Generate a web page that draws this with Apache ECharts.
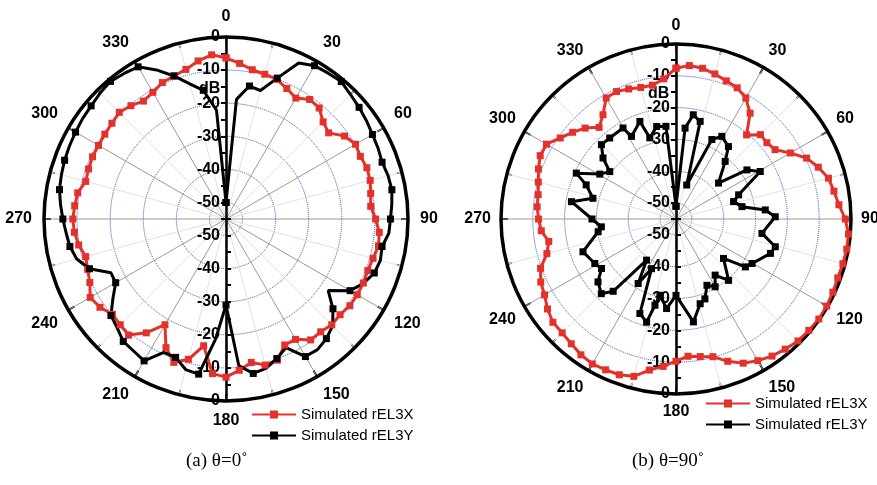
<!DOCTYPE html>
<html>
<head>
<meta charset="utf-8">
<script src="https://cdn.jsdelivr.net/npm/echarts@6/dist/echarts.min.js"></script>
<style>
  html, body { margin: 0; padding: 0; background: #fff; }
  #chart { width: 877px; height: 485px; }
</style>
</head>
<body>
<div id="chart"></div>
<script>
// angles (deg) shared by the 5-degree sampled curves
const angles5 = [0, 5, 10, 15, 20, 25, 30, 35, 40, 45, 50, 55, 60, 65, 70, 75, 80, 85, 90, 95,
  100, 105, 110, 115, 120, 125, 130, 135, 140, 145, 150, 155, 160, 165, 170, 175, 180, 185, 190, 195,
  200, 205, 210, 215, 220, 225, 230, 235, 240, 245, 250, 255, 260, 265, 270, 275, 280, 285, 290, 295,
  300, 305, 310, 315, 320, 325, 330, 335, 340, 345, 350, 355, 360]

// (a) theta = 0
const leftX = [-6.3, -7.8, -9.2, -9.7, -10.1, -11.5, -12.8, -10.9, -11.2, -13.5,
  -14.5, -11.3, -9.8, -10.2, -9.7, -9.9, -10.6, -11.1, -9.8, -8.5,
  -8.2, -9.0, -9.4, -9.2, -9.2, -9.3, -10.0, -9.8, -10.5, -10.4,
  -13.0, -13.0, -9.6, -9.3, -11.0, -9.1, -7.2, -8.1, -16.1, -11.1,
  -8.9, -12.1, -18.1, -13.0, -9.2, -9.8, -10.2, -8.5, -7.6, -9.6,
  -10.5, -11.1, -9.8, -9.0, -8.7, -9.1, -9.5, -11.1, -10.8, -10.5,
  -10.5, -10.3, -10.0, -9.4, -10.3, -11.5, -10.8, -9.5, -9.0, -8.2,
  -6.5, -5.2, -6.3]
const leftY = [-50, -18.7, -14.2, -14.8, -9.7, -3.0, -1.5, -1.2, -0.8, -1.8,
  -2.5, -3.2, -3.9, -4.3, -4.8, -4.3, -4.1, -4.7, -5.3, -5.6,
  -7.1, -6.7, -7.3, -9.1, -11.7, -17.3, -12.8, -9.4, -7.8, -6.8,
  -7.0, -12.1, -10.1, -8.3, -7.6, -10.5, -29.0, -18.5, -7.4, -7.9,
  -10.5, -10.5, -5.5, -6.3, -6.7, -8.5, -9.6, -13.3, -16.5, -16.6,
  -11.1, -8.3, -7.1, -6.5, -5.7, -4.8, -3.9, -3.5, -3.1, -2.8,
  -2.5, -2.1, -1.8, -1.2, -0.7, -1.3, -1.9, -5.3, -9.0, -12.7,
  -15.5, -22.0, -50]

// (b) theta = 90
const rightX = [-7.6, -6.6, -6.9, -7.8, -8.8, -9.5, -11.1, -14.4, -20.5, -17.5,
  -17.7, -17.0, -13.5, -9.7, -7.4, -5.4, -4.6, -3.6, -1.8, -0.6,
  -0.5, -0.7, -0.9, -0.6, -0.3, -0.2, -0.5, -0.8, -1.6, -2.4,
  -3.6, -5.0, -7.4, -10.2, -11.1, -11.7, -10.3, -8.5, -6.8, -3.8,
  -2.9, -2.7, -2.4, -2.9, -3.8, -4.4, -4.5, -5.7, -7.3, -8.1,
  -9.7, -13.0, -14.4, -12.5, -11.8, -11.2, -11.0, -10.2, -9.0, -7.9,
  -8.0, -10.6, -12.6, -14.6, -17.4, -15.0, -11.1, -10.8, -11.5, -12.2,
  -12.3, -10.8, -7.6]
const rightYAngles = [0, 5.7, 9.4, 13.9, 17.5, 24.3, 29, 35.9, 40.5, 49.8, 55.3, 60.6, 68.9, 73.2, 79.4,
  84.2, 88.7, 99.5, 105.6, 110, 120.3, 124.6, 129.7, 139.4, 145.1, 150, 155, 160.1, 164.1, 170.4,
  180, 186, 191.9, 193.7, 195.9, 200.9, 206.2, 210.4, 215.6, 221, 225, 231.1, 236.4, 241.3, 250.6,
  260.7, 264, 270, 279.4, 284, 290.8, 294.7, 300.5, 305.6, 309.9, 314.9, 320.7, 329.8, 331.7, 339.7,
  342.1, 348.2, 353.8, 360]
const rightY = [-51, -26.3, -21.8, -23.4, -43.8, -27.6, -25.3, -26.9, -31.2, -37.5, -27.9, -24.6, -33.9, -36.1, -33.9,
  -26.8, -23.8, -27.6, -22.6, -23.4, -27.3, -28.5, -35.6, -29.6, -33.5, -30.4, -32, -28.3, -27.3, -22.2,
  -31, -26.7, -30.5, -27.1, -21.3, -23.2, -37.6, -31.5, -39.1, -24.9, -21.8, -23.5, -26.9, -25.9, -24,
  -30.2, -31.4, -28.6, -21.7, -28.1, -24.8, -20.5, -27.2, -29.4, -25.1, -21.9, -22.1, -21.9, -25.5, -22.3,
  -28.2, -25.3, -25.7, -51]

const angleTicks = ['0', '30', '60', '90', '120', '150', '180', '210', '240', '270', '300', '330']
const nameX = 'Simulated rEL3X'
const nameY = 'Simulated rEL3Y'
const RED = '#e2322b'
const FONT = 'Liberation Sans, Arial, sans-serif'

// [radius, angle] items; markers only on every `every`-th vertex
function pairs(vals, angs, every) {
  return vals.map((v, i) => (i % every === 0 ? [v, angs[i]] : { value: [v, angs[i]], symbol: 'none' }))
}

// angle axis (outer ring) for the plot polar
function ringAxis(idx, margin) {
  return {
    polarIndex: idx,
    type: 'value', min: 0, max: 360, interval: 30,
    startAngle: 90, clockwise: true,
    axisLine: { lineStyle: { color: '#000', width: 3.5 } },
    axisTick: { inside: true, length: 7, lineStyle: { color: '#000', width: 2 } },
    minorTick: { show: true, splitNumber: 2, length: 5, lineStyle: { color: '#000', width: 1.5 } },
    axisLabel: {
      margin: margin, color: '#000', fontSize: 16, fontWeight: 'bold', fontFamily: FONT,
      formatter: v => angleTicks[Math.round(v / 30)] || ''
    },
    splitLine: { lineStyle: { color: '#9a9a9a', width: 1 } },
    minorSplitLine: { show: true, lineStyle: { color: '#e2e2e2', width: 1 } }
  }
}
// hidden angle axis, only used to point the mirrored radial scale downwards
function downAxis(idx) {
  return {
    polarIndex: idx, type: 'value', min: 0, max: 360, startAngle: 270,
    axisLine: { show: false }, axisTick: { show: false }, axisLabel: { show: false },
    splitLine: { show: false }
  }
}
function dbAxis(idx, up) {
  return {
    polarIndex: idx, type: 'value', min: -55, max: 0, interval: 5,
    axisLine: { lineStyle: { color: '#000', width: 2.5 } },
    axisTick: { length: 5, lineStyle: { color: '#000', width: 2 } },
    axisLabel: {
      margin: up ? 6 : -6, align: 'right',
      color: '#000', fontSize: 16, fontWeight: 'bold', fontFamily: FONT,
      formatter: v => (v % 10 === 0 ? String(v) : '')
    },
    splitLine: up
      ? { show: true, lineStyle: { type: 'dotted', width: 1, color: ['rgba(0,0,0,0)', '#3a4cc0'] } }
      : { show: false }
  }
}
function curve(name, color, polarIndex, data) {
  return {
    name, type: 'line', coordinateSystem: 'polar', polarIndex,
    data, color, symbol: 'rect', symbolSize: 7, showAllSymbol: true,
    lineStyle: { width: 3, color }, itemStyle: { color },
    animation: false
  }
}
function legendAt(left, top) {
  return {
    data: [nameX, nameY], orient: 'vertical', left, top,
    itemWidth: 44, itemHeight: 10, itemGap: 6,
    textStyle: { color: '#000', fontSize: 15, fontFamily: FONT }
  }
}

const chart = echarts.init(document.getElementById('chart'))
chart.setOption({
  backgroundColor: '#fff',
  animation: false,
  polar: [
    { center: [226, 219], radius: 182 },
    { center: [226, 219], radius: 182 },
    { center: [676, 219], radius: 175 },
    { center: [676, 219], radius: 175 }
  ],
  angleAxis: [ringAxis(0, 12), downAxis(1), ringAxis(2, 10), downAxis(3)],
  radiusAxis: [dbAxis(0, true), dbAxis(1, false), dbAxis(2, true), dbAxis(3, false)],
  legend: [legendAt(246, 402), legendAt(700, 391)],
  series: [
    curve(nameX, RED, 0, pairs(leftX, angles5, 1)),
    curve(nameY, '#000', 0, pairs(leftY, angles5, 2)),
    curve(nameX, RED, 2, pairs(rightX, angles5, 1)),
    curve(nameY, '#000', 2, pairs(rightY, rightYAngles, 1))
  ],
  graphic: [
    { type: 'text', left: 199, top: 81, style: { text: 'dB', fontSize: 16, fontWeight: 'bold', fontFamily: FONT, fill: '#000' } },
    { type: 'text', left: 648, top: 86, style: { text: 'dB', fontSize: 16, fontWeight: 'bold', fontFamily: FONT, fill: '#000' } },
    { type: 'text', left: 186, top: 452, style: { text: '(a) θ=0˚', fontSize: 19, fontFamily: 'Liberation Serif, Times New Roman, serif', fill: '#000' } },
    { type: 'text', left: 632, top: 452, style: { text: '(b) θ=90˚', fontSize: 19, fontFamily: 'Liberation Serif, Times New Roman, serif', fill: '#000' } }
  ]
})
</script>
</body>
</html>
